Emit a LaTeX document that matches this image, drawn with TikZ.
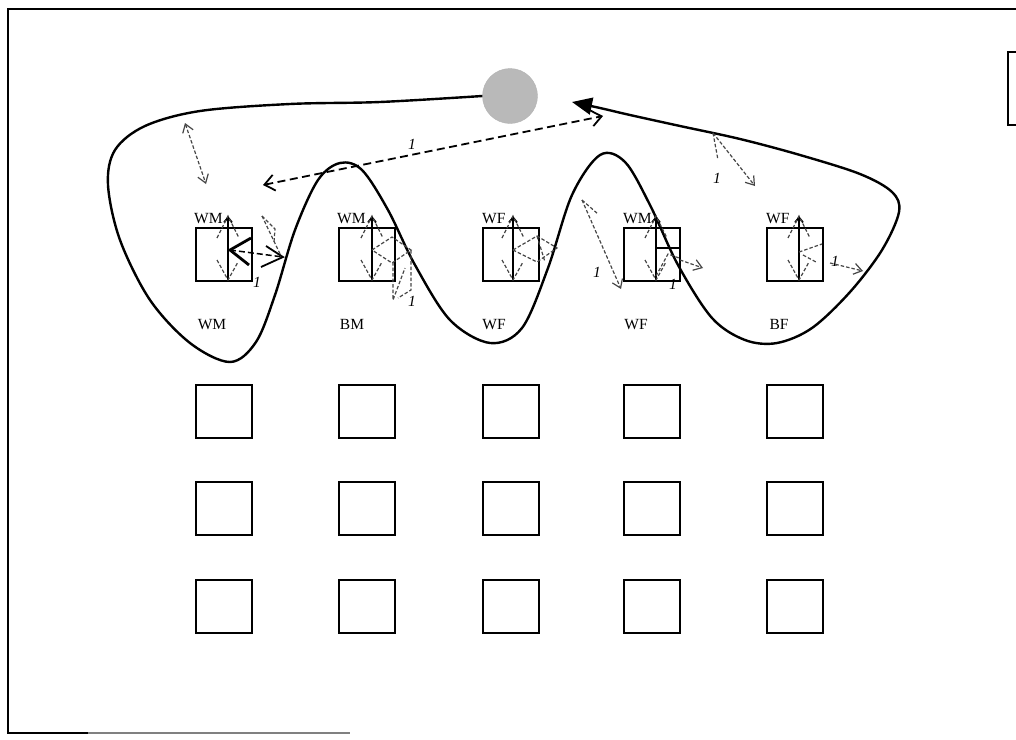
\documentclass[tikz,border=0pt]{standalone}
\usepackage{fontspec}
\setmainfont{Liberation Serif}
\usetikzlibrary{arrows.meta}
\begin{document}
\begin{tikzpicture}[x=1pt,y=-1pt,
  frame/.style={line width=2.2pt},
  cell/.style={draw, line width=2pt, minimum width=56pt, minimum height=53pt, inner sep=0pt, anchor=north west},
  tag/.style={font=\fontsize{15.5}{17}\selectfont, inner sep=0pt},
  num/.style={font=\itshape\fontsize{15.5}{17}\selectfont, inner sep=0pt},
  loop/.style={line width=2.4pt, line join=round},
  axis/.style={line width=1.8pt},
  ray/.style={gray!55!black, line width=1.2pt, dash pattern=on 3.5pt off 2pt},
  rayhead/.style={ray, -{Straight Barb[length=8pt,width=11pt]}},
  link/.style={line width=1.8pt, dash pattern=on 8pt off 4.5pt},
]
\useasboundingbox (0,0) rectangle (1016,739);

% outer frame
\draw[frame] (1016,9) -- (8,9) -- (8,733) -- (88,733);
\draw[gray, line width=1.6pt] (88,733) -- (350,733);
\draw[frame] (1016,52) -- (1008,52) -- (1008,125) -- (1016,125);

% grid of cells
\foreach \c/\x in {1/195,2/338,3/482,4/623,5/766}{
  \node[cell] (r1c\c) at (\x,227) {};
  \node[cell] (r2c\c) at (\x,384) {};
  \node[cell] (r3c\c) at (\x,481) {};
  \node[cell] (r4c\c) at (\x,579) {};
}

% cell labels
\node[tag, anchor=base west] (t1) at (194,223) {WM};
\node[tag, anchor=base west] (t2) at (337,223) {WM};
\node[tag, anchor=base west] (t3) at (482,223) {WF};
\node[tag, anchor=base west] (t4) at (623,223) {WM};
\node[tag, anchor=base west] (t5) at (766,223) {WF};
\node[tag, anchor=base] (b1) at (212,329) {WM};
\node[tag, anchor=base] (b2) at (352,329) {BM};
\node[tag, anchor=base] (b3) at (494,329) {WF};
\node[tag, anchor=base] (b4) at (636,329) {WF};
\node[tag, anchor=base] (b5) at (779,329) {BF};

% source disc
\node[circle, minimum size=55pt, inner sep=0pt, fill=gray!55, draw=gray!60] (src) at (510,96) {};

% closed trajectory ending in a filled head near the disc
\draw[loop, -{Triangle[length=20pt,width=17pt]}] plot[smooth, tension=0.55] coordinates {
  (src.west) (380,102) (290,104) (200,111) (145,126) (115,150) (108,185)
  (120,240) (150,300) (190,343) (230,362) (256,342) (275,295) (295,230)
  (318,180) (340,163) (362,170) (388,210) (415,265) (450,320) (490,343)
  (522,328) (548,268) (572,195) (600,155) (625,162) (650,205) (678,265)
  (712,318) (745,340) (777,343) (812,328) (850,292) (882,250) (899,212)
  (892,192) (860,174) (800,155) (740,139) (680,126) (630,115) (600,108) (572,102)};

% long dashed link
\coordinate (la) at (263,185);
\coordinate (lb) at (603,116);
\draw[link, {Straight Barb[length=10pt,width=16pt]}-{Straight Barb[length=10pt,width=16pt]}] (la) -- (lb);
\node[num] (n0) at (412,144) {1};

% axes inside the upper cells
\foreach \c/\x in {1/228,2/372,3/513,4/656,5/799}{
  \coordinate (top\c) at (\x,216);
  \coordinate (bot\c) at (\x,280);
  \draw[axis, -{Straight Barb[length=5pt,width=8pt]}] (bot\c) -- (top\c);
  \draw[ray] (\x-11,238) -- (top\c) -- (\x+11,238);
  \draw[ray] (\x-11,260) -- (bot\c) -- (\x+10,262);
}
\draw[axis] (656,248) -- (r1c4.east |- 656,248);

% cell 1: bold link to the loop
\coordinate (h1) at (230,250);
\coordinate (w1) at (283,257);
\draw[link, line width=1.5pt, dash pattern=on 6pt off 3pt] (h1) -- (w1);
\draw[line width=2.8pt] (251,238) -- (h1) -- (249,265);
\draw[line width=1.8pt] (261,267) -- (w1) -- (266,246);
\draw[ray] (262,216) -- (281,256);
\draw[ray] (262,216) -- (275,229) -- (274,242);
\node[num] (n1) at (257,282) {1};

% cell 2
\coordinate (w2) at (411,250);
\draw[ray] (372,250) -- (392,237) -- (w2) -- (392,263) -- cycle;
\draw[ray] (393,262) -- (393,300) -- (405,268);
\draw[ray] (w2) -- (411,290) -- (398,298);
\node[num] (n2) at (412,301) {1};

% cell 3
\coordinate (w3) at (557,248);
\draw[ray] (513,250) -- (537,236) -- (w3) -- (537,262) -- cycle;
\draw[ray] (537,236) -- (545,262);

% ray between cells 3 and 4
\coordinate (p34) at (582,200);
\draw[rayhead] (p34) -- (621,289);
\draw[ray] (p34) -- (598,214);
\node[num] (n3) at (597,272) {1};

% cell 4
\draw[ray] (656,276) -- (668,254) -- (679,258);
\draw[rayhead] (680,260) -- (703,268);
\node[num] (n4) at (673,284) {1};

% ray from the upper arc
\coordinate (p45) at (713,133);
\draw[rayhead] (p45) -- (755,186);
\draw[ray] (p45) -- (718,160);
\node[num] (n5) at (717,178) {1};

% cell 5
\draw[ray] (799,252) -- (822,244);
\draw[ray] (803,255) -- (816,262);
\draw[rayhead] (830,263) -- (863,271);
\node[num] (n6) at (835,261) {1};

% short ray at the upper left
\draw[ray, {Straight Barb[length=8pt,width=11pt]}-{Straight Barb[length=8pt,width=11pt]}] (185,123) -- (206,184);
\end{tikzpicture}
\end{document}
